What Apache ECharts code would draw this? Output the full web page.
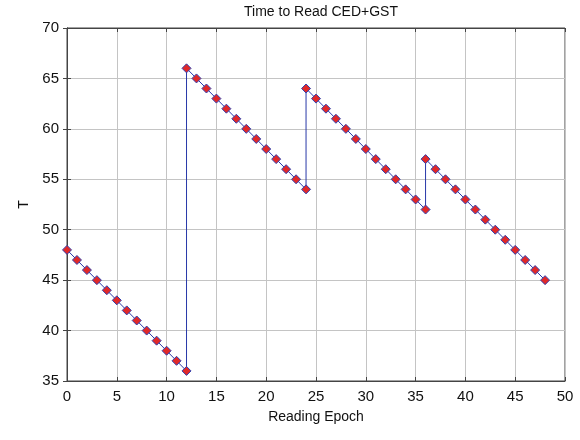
<!DOCTYPE html>
<html><head><meta charset="utf-8">
<script src="https://cdn.jsdelivr.net/npm/echarts@6/dist/echarts.min.js"></script>
<style>html,body{margin:0;padding:0;background:#fff}#c{width:580px;height:440px}</style>
</head><body><div id="c"></div>
<script>
const epochs = [0,1,2,3,4,5,6,7,8,9,10,11,12,12,13,14,15,16,17,18,19,20,21,22,23,24,24,25,26,27,28,29,30,31,32,33,34,35,36,36,37,38,39,40,41,42,43,44,45,46,47,48];
const times  = [48,47,46,45,44,43,42,41,40,39,38,37,36,66,65,64,63,62,61,60,59,58,57,56,55,54,64,63,62,61,60,59,58,57,56,55,54,53,52,57,56,55,54,53,52,51,50,49,48,47,46,45];
const xTicks = [0,5,10,15,20,25,30,35,40,45,50];
const yTicks = [35,40,45,50,55,60,65,70];
const titleText = 'Time to Read CED+GST';
const xName = 'Reading Epoch';
const yName = 'T';

const chart = echarts.init(document.getElementById('c'), null, {renderer:'canvas'});
const font = 'Liberation Sans, Arial, sans-serif';
const axisCommon = {
  axisLine:{show:true,lineStyle:{color:'#444',width:1}},
  axisTick:{show:true,inside:true,length:4,lineStyle:{color:'#444'}},
  splitLine:{show:true,lineStyle:{color:'#c4c4c4',type:'solid',width:1}},
  axisLabel:{color:'#111',fontSize:15,fontFamily:font},
  nameTextStyle:{color:'#111',fontSize:14,fontFamily:font}
};
chart.setOption({
  backgroundColor:'#fff',
  animation:false,
  title:{text:titleText,left:316,top:0,textAlign:'center',textStyle:{fontSize:14,fontWeight:'normal',color:'#111',fontFamily:font}},
  grid:{left:67,right:15,top:28,bottom:59,show:true,borderColor:'#444',borderWidth:1},
  xAxis:[{type:'value',min:xTicks[0],max:xTicks[xTicks.length-1],interval:5,name:xName,nameLocation:'middle',nameGap:29,...axisCommon,axisLabel:{...axisCommon.axisLabel,margin:8}},
         {type:'value',position:'top',min:0,max:50,interval:5,axisLine:{show:true,lineStyle:{color:'#444'}},axisTick:{show:true,inside:true,length:4,lineStyle:{color:'#444'}},axisLabel:{show:false},splitLine:{show:false}}],
  yAxis:[{type:'value',min:yTicks[0],max:yTicks[yTicks.length-1],interval:5,name:yName,nameLocation:'middle',nameGap:30,...axisCommon,axisLabel:{...axisCommon.axisLabel,margin:8}},
         {type:'value',position:'right',min:35,max:70,interval:5,axisLine:{show:true,lineStyle:{color:'#444'}},axisTick:{show:true,inside:true,length:4,lineStyle:{color:'#444'}},axisLabel:{show:false},splitLine:{show:false}}],
  series:[{
    type:'line',
    data:epochs.map((x,i)=>[x,times[i]]),
    symbol:'diamond',symbolSize:9,
    lineStyle:{color:'#2838a8',width:1},
    itemStyle:{color:'#e02828',borderColor:'#3040b0',borderWidth:1},
    z:5
  }]
});
</script></body></html>
